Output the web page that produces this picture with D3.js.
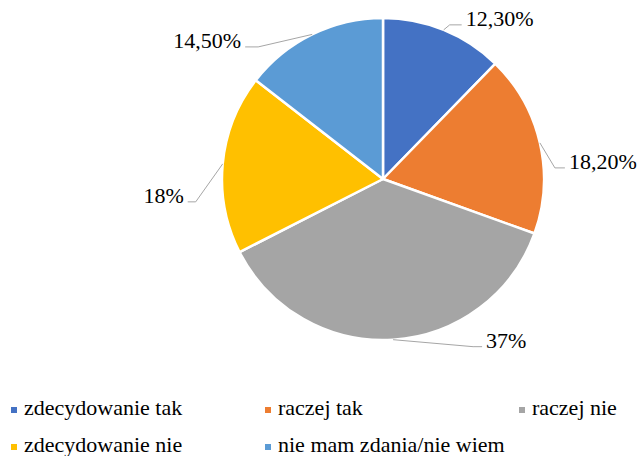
<!DOCTYPE html>
<html>
<head>
<meta charset="utf-8">
<script src="https://cdn.jsdelivr.net/npm/d3@7"></script>
</head>
<body style="margin:0">
<div id="chart"></div>
<script>
// Data
var categories = ["zdecydowanie tak", "raczej tak", "raczej nie", "zdecydowanie nie", "nie mam zdania/nie wiem"];
var values = [12.3, 18.2, 37, 18, 14.5];
var value_labels = ["12,30%", "18,20%", "37%", "18%", "14,50%"];
var colors = ["#4472C4", "#ED7D31", "#A5A5A5", "#FFC000", "#5B9BD5"];

// leader line elbow / end offsets from the arc point, and label side
var leaders = [
    {elbow: [6, -5],   end: [18, -5],   side: "right"},
    {elbow: [15, 25],  end: [25, 25],   side: "right"},
    {elbow: [80, 7],   end: [89, 7],    side: "right"},
    {elbow: [-27, 38], end: [-35, 38],  side: "left"},
    {elbow: [-54, 12.5], end: [-67, 12.5], side: "left"}
];

var width = 638,
    height = 456,
    cx = 383,
    cy = 179,
    radius = 161,
    font_size = 22,
    font = "Liberation Serif";

var svg = d3.select("#chart")
    .append("svg")
    .attr("width", width)
    .attr("height", height);

var pie = d3.pie()
    .sort(null)
    .value(d => d);

var arcs = pie(values);

var arc = d3.arc()
    .innerRadius(0)
    .outerRadius(radius);

var g = svg.append("g").attr("transform", "translate(" + cx + "," + cy + ")");

g.selectAll("path.slice")
    .data(arcs)
    .enter()
    .append("path")
    .attr("class", "slice")
    .attr("d", arc)
    .attr("fill", (d, i) => colors[i])
    .attr("stroke", "white")
    .attr("stroke-width", 2.5)
    .attr("stroke-linejoin", "round");

// point on the rim in the middle of each slice
function rim_point(d) {
    var a = (d.startAngle + d.endAngle) / 2;
    return [radius * Math.sin(a), -radius * Math.cos(a)];
}

g.selectAll("polyline.leader")
    .data(arcs)
    .enter()
    .append("polyline")
    .attr("class", "leader")
    .attr("points", function(d, i) {
	var p = rim_point(d);
	var l = leaders[i];
	return [p, [p[0] + l.elbow[0], p[1] + l.elbow[1]], [p[0] + l.end[0], p[1] + l.end[1]]]
	    .map(q => q.join(",")).join(" ");
    })
    .attr("fill", "none")
    .attr("stroke", "#A6A6A6")
    .attr("stroke-width", 1);

g.selectAll("text.value")
    .data(arcs)
    .enter()
    .append("text")
    .attr("class", "value")
    .attr("x", function(d, i) {
	var p = rim_point(d);
	var l = leaders[i];
	return p[0] + l.end[0] + (l.side == "right" ? 4 : -4);
    })
    .attr("y", function(d, i) {
	var p = rim_point(d);
	return p[1] + leaders[i].end[1] + 1;
    })
    .attr("text-anchor", (d, i) => leaders[i].side == "right" ? "start" : "end")
    .attr("font-family", font)
    .attr("font-size", font_size)
    .attr("fill", "#000")
    .text((d, i) => value_labels[i]);

// Legend
var legend_x = d3.scalePoint()
    .domain([0, 1, 2])
    .range([11, 519]);

var legend_y = d3.scalePoint()
    .domain([0, 1])
    .range([415, 452]);

var legend = svg.selectAll("g.legend")
    .data(categories)
    .enter()
    .append("g")
    .attr("class", "legend")
    .attr("transform", (d, i) => "translate(" + legend_x(i % 3) + "," + legend_y(Math.floor(i / 3)) + ")");

legend.append("rect")
    .attr("x", 0)
    .attr("y", -8)
    .attr("width", 6)
    .attr("height", 6)
    .attr("fill", (d, i) => colors[i]);

legend.append("text")
    .attr("x", 13)
    .attr("y", 0)
    .attr("font-family", font)
    .attr("font-size", font_size)
    .attr("fill", "#000")
    .text(d => d);
</script>
</body>
</html>
